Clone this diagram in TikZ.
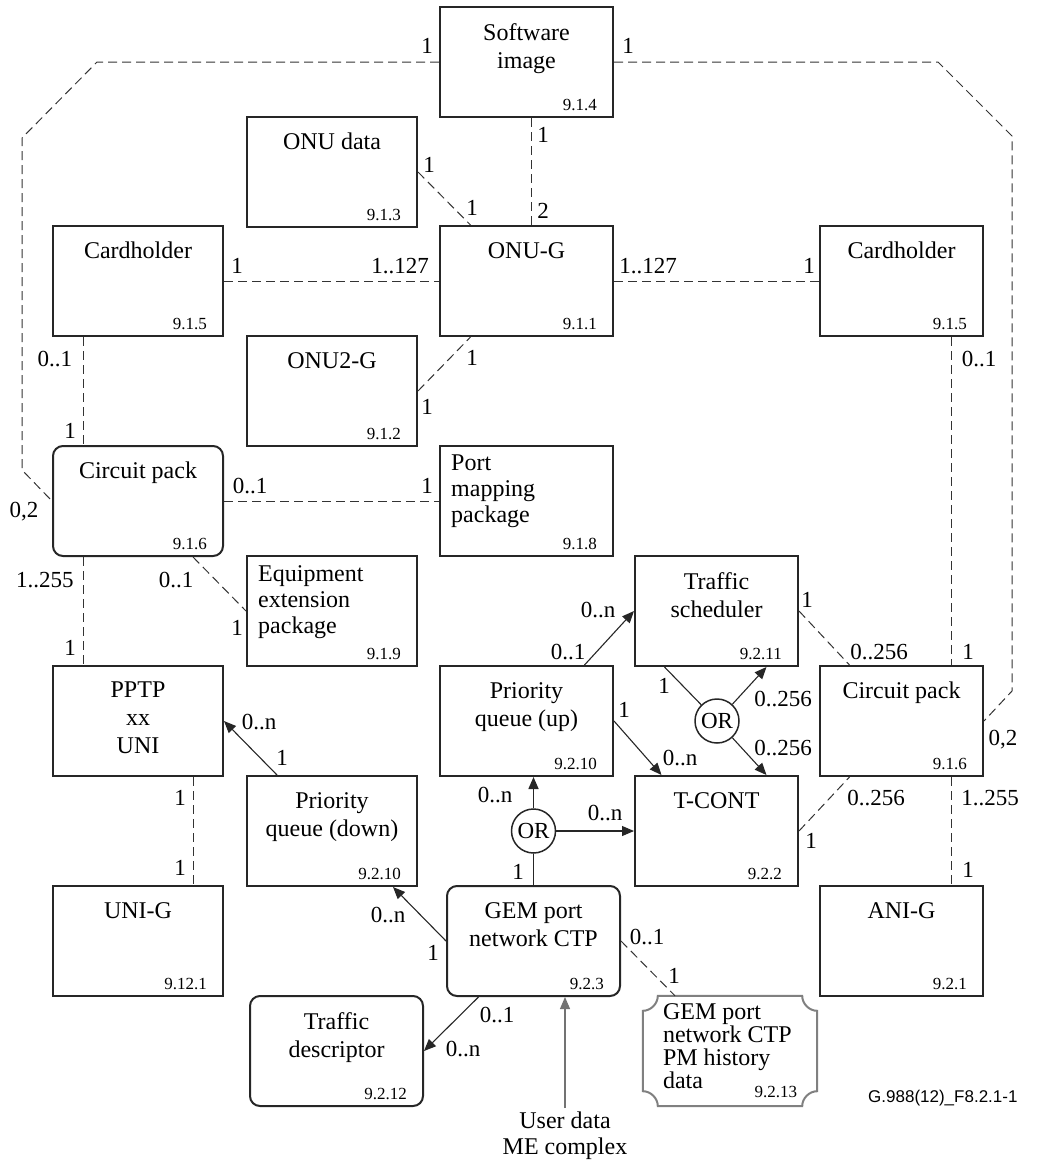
\documentclass[tikz,border=0pt]{standalone}
\usepackage{fontspec}
\setmainfont{Liberation Serif}
\newfontfamily\figsans{Liberation Sans}
\usetikzlibrary{arrows.meta,calc}

\tikzset{
  mebox/.style={draw=black!85, line width=2pt, minimum width=170pt, minimum height=110pt, inner sep=0pt},
  metitle/.style={anchor=north, align=center, inner sep=0pt, font=\fontsize{24}{28}\selectfont},
  metitlel/.style={anchor=north west, align=left, inner sep=0pt, font=\fontsize{24}{26}\selectfont},
  menum/.style={anchor=base east, inner sep=0pt, font=\fontsize{17}{17}\selectfont},
  mult/.style={anchor=base, inner sep=0pt, font=\fontsize{23}{23}\selectfont},
  assoc/.style={draw=black!80, line width=1pt, dash pattern=on 9pt off 5pt},
  link/.style={draw=black!85, line width=1.1pt},
  arr/.style={link, -{Triangle[length=12pt,width=10pt]}},
  orgate/.style={circle, draw=black!85, line width=1.5pt, minimum size=44pt, inner sep=0pt, font=\fontsize{23}{23}\selectfont},
  pmbox/.style={minimum width=174pt, minimum height=110pt, inner sep=0pt},
  pmline/.style={draw=black!50, line width=2pt},
}

% box with centred title and clause number
\newcommand{\mebox}[5][]{%
  \node[mebox,#1] (#2) at (#3) {};
  \node[metitle] (#2t) at ($(#2.north)+(0,17)$) {#4};
  \node[menum] (#2n) at ($(#2.south east)+(-17,-8)$) {#5};
}
% same, title flush left
\newcommand{\meboxl}[5][]{%
  \node[mebox,#1] (#2) at (#3) {};
  \node[metitlel] (#2t) at ($(#2.north west)+(12,10)$) {#4};
  \node[menum] (#2n) at ($(#2.south east)+(-17,-8)$) {#5};
}

\begin{document}
\begin{tikzpicture}[x=1pt,y=-1pt]
\useasboundingbox (0,0) rectangle (1055,1162);

% managed entities
\mebox[minimum width=173pt]{swimg}{526.5,62}{Software\\image}{9.1.4}
\mebox{onudata}{332,172}{ONU data}{9.1.3}
\mebox{chl}{138,281}{Cardholder}{9.1.5}
\mebox[minimum width=173pt]{onug}{526.5,281}{ONU-G}{9.1.1}
\mebox[minimum width=163pt]{chr}{901.5,281}{Cardholder}{9.1.5}
\mebox{onu2g}{332,391}{ONU2-G}{9.1.2}
\mebox[rounded corners=10pt]{cpl}{138,501}{Circuit pack}{9.1.6}
\meboxl[minimum width=173pt]{portmap}{526.5,501}{Port\\mapping\\package}{9.1.8}
\meboxl{eqext}{332,611}{Equipment\\extension\\package}{9.1.9}
\mebox[minimum width=163pt]{tsched}{716.5,611}{Traffic\\scheduler}{9.2.11}
\mebox{pptp}{138,721}{PPTP\\xx\\UNI}{}
\mebox[minimum width=173pt]{pqup}{526.5,721}{Priority\\queue (up)}{9.2.10}
\mebox[minimum width=163pt]{cpr}{901.5,721}{Circuit pack}{9.1.6}
\mebox{pqdown}{332,831}{Priority\\queue (down)}{9.2.10}
\mebox[minimum width=163pt]{tcont}{716.5,831}{T-CONT}{9.2.2}
\mebox{unig}{138,941}{UNI-G}{9.12.1}
\mebox[minimum width=173pt,rounded corners=10pt]{gem}{533.5,941}{GEM port\\network CTP}{9.2.3}
\mebox[minimum width=163pt]{anig}{901.5,941}{ANI-G}{9.2.1}
\mebox[minimum width=173pt,rounded corners=10pt]{trdesc}{336.5,1051}{Traffic\\descriptor}{9.2.12}

% PM history data, concave corners
\node[pmbox] (pmhist) at (730,1051) {};
\node[metitlel, font=\fontsize{24}{23}\selectfont] (pmhistt) at ($(pmhist.north west)+(20,8)$) {GEM port\\network CTP\\PM history\\data};
\node[menum] (pmhistn) at ($(pmhist.south east)+(-20,-9)$) {9.2.13};
\draw[pmline] let \p1=(pmhist.north west), \p2=(pmhist.south east) in
  ({\x1+15pt},\y1) -- ({\x2-15pt},\y1)
  .. controls ({\x2-15pt},{\y1-8pt}) and ({\x2-8pt},{\y1-15pt}) .. (\x2,{\y1-15pt})
  -- (\x2,{\y2+15pt})
  .. controls ({\x2-8pt},{\y2+15pt}) and ({\x2-15pt},{\y2+8pt}) .. ({\x2-15pt},\y2)
  -- ({\x1+15pt},\y2)
  .. controls ({\x1+15pt},{\y2+8pt}) and ({\x1+8pt},{\y2+15pt}) .. (\x1,{\y2+15pt})
  -- (\x1,{\y1-15pt})
  .. controls ({\x1+8pt},{\y1-15pt}) and ({\x1+15pt},{\y1-8pt}) .. ({\x1+15pt},\y1) -- cycle;

% OR gates and user data
\node[orgate] (or1) at (533.5,831) {OR};
\node[orgate] (or2) at (717,721) {OR};
\node[metitle, inner sep=4pt, font=\fontsize{24}{26}\selectfont] (userdata) at (565,1108) {User data\\ME complex};

% associations
\draw[assoc] (swimg.west) -- (97,62) -- (22,138) -- (22,470) -- (cpl.west);
\draw[assoc] (swimg.east) -- (938,62) -- (1012,136) -- (1012,691) -- (cpr.east);
\draw[assoc] ([xshift=5pt]swimg.south) -- ([xshift=5pt]onug.north);
\draw[assoc] (onudata.east) -- ([xshift=-56pt]onug.north);
\draw[assoc] (chl.east) -- (onug.west);
\draw[assoc] (onug.east) -- (chr.west);
\draw[assoc] (onu2g.east) -- ([xshift=-56pt]onug.south);
\draw[assoc] ([xshift=-55pt]chl.south) -- ([xshift=-55pt]cpl.north);
\draw[assoc] ([xshift=50pt]chr.south) -- ([xshift=50pt]cpr.north);
\draw[assoc] (cpl.east) -- (portmap.west);
\draw[assoc] ([xshift=55pt]cpl.south) -- (eqext.west);
\draw[assoc] ([xshift=-55pt]cpl.south) -- ([xshift=-55pt]pptp.north);
\draw[assoc] ([xshift=55pt]pptp.south) -- ([xshift=55pt]unig.north);
\draw[assoc] (tsched.east) -- ([xshift=-52pt]cpr.north);
\draw[assoc] (tcont.east) -- ([xshift=-52pt]cpr.south);
\draw[assoc] ([xshift=50pt]cpr.south) -- ([xshift=50pt]anig.north);
\draw[assoc] (gem.east) -- ([xshift=-55pt]pmhist.north);

% pointers
\draw[arr] ([xshift=-55pt]pqdown.north) -- (pptp.east);
\draw[arr] (gem.west) -- ([xshift=61pt]pqdown.south);
\draw[arr] ([xshift=-55pt]gem.south) -- (trdesc.east);
\draw[arr] ([xshift=58pt]pqup.north) -- (tsched.west);
\draw[arr] (pqup.east) -- ([xshift=-55pt]tcont.north);
\draw[link] ([xshift=-52pt]tsched.south) -- (or2);
\draw[arr] (or2) -- ([xshift=50pt]tsched.south);
\draw[arr] (or2) -- ([xshift=50pt]tcont.north);
\draw[link, line width=1.6pt] (gem.north) -- (or1);
\draw[arr, line width=1.6pt] (or1) -- (or1 |- pqup.south);
\draw[arr] (or1) -- (tcont.west);
\draw[arr, draw=black!55] (userdata.north) -- (userdata.north |- gem.south);

% multiplicities
\foreach \x/\y/\t [count=\i] in {427/53/1, 628/53/1, 543/142/1, 543/218/2, 429/172/1, 472/215/1,
    237/273/1, 400/273/1..127, 648/273/1..127, 809/273/1, 55/366/0..1, 70/438/1, 472/365/1,
    427/414/1, 24/517/{0,2}, 250/493/0..1, 427/493/1, 45/587/1..255, 176/587/0..1, 237/635/1,
    979/366/0..1, 598/617/0..n, 807/607/1, 70/655/1, 259/729/0..n, 282/765/1, 180/805/1,
    180/875/1, 495/802/0..n, 518/879/1, 388/922/0..n, 568/659/0..1, 879/659/0..256, 968/659/1,
    664/693/1, 624/717/1, 783/706/0..256, 783/755/0..256, 680/765/0..n, 1003/745/{0,2},
    605/820/0..n, 876/805/0..256, 990/805/1..255, 811/848/1, 968/877/1, 433/960/1,
    497/1022/0..1, 463/1056/0..n, 647/944/0..1, 674/983/1}
  \node[mult] (m\i) at (\x,\y) {\t};

\node[anchor=base west, inner sep=0pt, font=\figsans\fontsize{17}{17}\selectfont] (figid) at (868,1102) {G.988(12)\_F8.2.1-1};
\end{tikzpicture}
\end{document}
